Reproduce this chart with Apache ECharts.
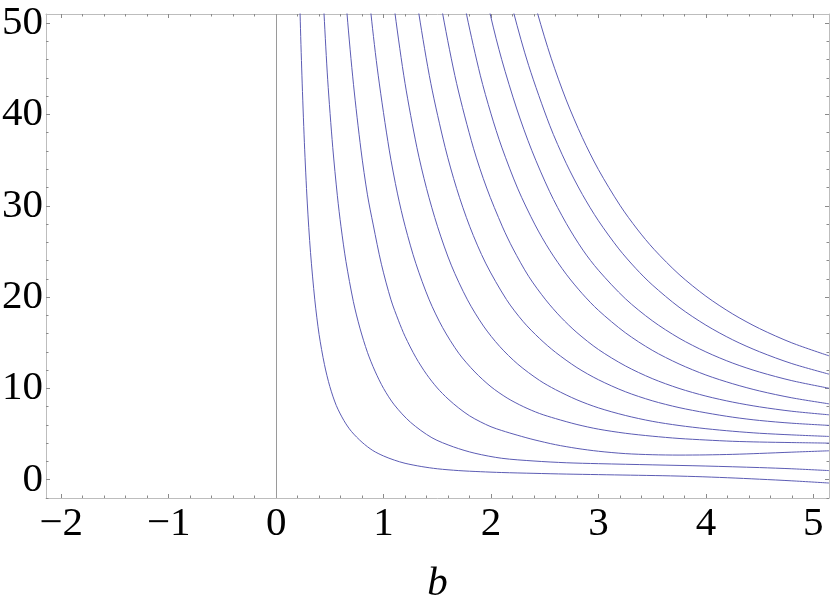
<!DOCTYPE html>
<html lang="en">
<head>
    <meta charset="UTF-8">
    <title>b</title>
    <style>
        html, body { margin: 0; padding: 0; background: #fff; }
        #chart { width: 830px; height: 604px; }
    </style>
</head>
<body>
<div id="chart"></div>
<script src="https://cdn.jsdelivr.net/npm/echarts@6/dist/echarts.min.js"></script>
<script type="text/javascript">
    // axis ranges and ticks
    var xRange = [-2.142, 5.146];
    var yRange = [-2.0, 51.0];
    var xMajor = [-2, -1, 0, 1, 2, 3, 4, 5];
    var yMajor = [0, 10, 20, 30, 40, 50];

    // curves as [b, value]
    var curve1 = [[0.21, 57.8], [0.223, 51], [0.24, 44.3], [0.263, 36.9], [0.29, 30.3], [0.32, 24.9],
        [0.36, 19.7], [0.40, 15.9], [0.45, 12.6], [0.50, 10.2], [0.56, 8.13], [0.63, 6.5], [0.70, 5.3],
        [0.80, 4.1], [0.90, 3.2], [1.0, 2.6], [1.1, 2.15], [1.2, 1.8], [1.35, 1.45], [1.5, 1.2],
        [1.7, 1.0], [1.9, 0.88], [2.1, 0.79], [2.4, 0.7], [2.7, 0.62], [3.0, 0.56], [3.3, 0.5],
        [3.6, 0.44], [3.9, 0.35], [4.2, 0.22], [4.5, 0.06], [4.8, -0.12], [5.146, -0.36]];
    var curve2 = [[0.42, 57.3], [0.446, 51], [0.48, 43.8], [0.527, 36.4], [0.57, 31.1], [0.604, 27.7],
        [0.65, 23.9], [0.719, 19.5], [0.78, 16.6], [0.85, 13.95], [0.92, 11.9], [1.0, 10.0], [1.1, 8.2],
        [1.25, 6.3], [1.45, 4.6], [1.65, 3.6], [1.85, 2.9], [2.1, 2.35], [2.4, 2.05], [2.7, 1.86],
        [3.0, 1.76], [3.5, 1.63], [4.0, 1.5], [4.5, 1.33], [4.8, 1.2], [5.146, 1.0]];
    var curve3 = [[0.63, 56.2], [0.66, 51], [0.72, 43.3], [0.79, 36.1], [0.85, 31.2], [0.904, 27.9],
        [0.98, 23.6], [1.069, 19.7], [1.14, 17.4], [1.2, 15.7], [1.3, 13.4], [1.4, 11.55], [1.5, 10.05],
        [1.6, 8.85], [1.7, 7.85], [1.8, 7.0], [1.9, 6.35], [2.0, 5.8], [2.1, 5.39], [2.25, 4.86],
        [2.4, 4.38], [2.6, 3.84], [2.8, 3.43], [3.0, 3.12], [3.25, 2.86], [3.5, 2.74], [3.75, 2.7],
        [4.0, 2.72], [4.25, 2.78], [4.5, 2.88], [4.8, 3.02], [5.146, 3.17]];
    var curve4 = [[0.84, 56.7], [0.883, 51], [0.95, 44.3], [1.053, 36.1], [1.13, 31.3], [1.202, 27.7],
        [1.3, 23.7], [1.425, 19.7], [1.55, 16.65], [1.7, 13.85], [1.85, 11.8], [2.0, 10.18], [2.15, 8.95],
        [2.3, 8.01], [2.45, 7.26], [2.6, 6.7], [2.8, 6.05], [3.0, 5.54], [3.25, 5.09], [3.5, 4.77],
        [3.75, 4.52], [4.0, 4.35], [4.25, 4.21], [4.5, 4.13], [4.8, 4.07], [5.146, 4.01]];
    var curve5 = [[1.05, 56.7], [1.106, 51.1], [1.2, 43.4], [1.31, 36.4], [1.4, 31.9], [1.503, 27.7],
        [1.63, 23.5], [1.781, 19.7], [1.93, 16.83], [2.08, 14.61], [2.25, 12.65], [2.45, 10.89],
        [2.6, 9.87], [2.8, 8.75], [3.0, 7.87], [3.25, 7.04], [3.5, 6.4], [3.75, 5.94], [4.0, 5.59],
        [4.25, 5.31], [4.5, 5.09], [4.8, 4.91], [5.146, 4.74]];
    var curve6 = [[1.26, 56.7], [1.329, 51], [1.44, 43.4], [1.573, 36.4], [1.68, 31.9], [1.803, 27.7],
        [1.95, 23.72], [2.144, 19.73], [2.3, 17.31], [2.45, 15.49], [2.6, 13.96], [2.8, 12.28], [3.0, 10.95],
        [3.25, 9.64], [3.5, 8.65], [3.75, 7.9], [4.0, 7.33], [4.25, 6.85], [4.5, 6.49], [4.8, 6.19],
        [5.146, 5.95]];
    var curve7 = [[1.47, 56.7], [1.552, 50.9], [1.68, 43.4], [1.837, 36.3], [1.96, 31.94], [2.107, 27.69],
        [2.206, 25.27], [2.35, 22.28], [2.509, 19.7], [2.65, 17.8], [2.8, 16.11], [3.0, 14.26], [3.25, 12.47],
        [3.5, 11.08], [3.75, 10.0], [4.0, 9.16], [4.25, 8.5], [4.5, 7.98], [4.8, 7.5], [5.146, 7.11]];
    var curve8 = [[1.69, 56.0], [1.775, 50.8], [1.9, 44.3], [2.0, 40.07], [2.1, 36.42], [2.25, 31.85],
        [2.41, 27.91], [2.546, 25.13], [2.7, 22.51], [2.85, 20.37], [3.0, 18.55], [3.25, 16.1], [3.5, 14.18],
        [3.75, 12.68], [4.0, 11.47], [4.25, 10.51], [4.5, 9.72], [4.8, 8.97], [5.146, 8.31]];
    var curve9 = [[1.9, 56.1], [1.998, 50.7], [2.1, 46.0], [2.24, 40.6], [2.379, 36.08], [2.546, 31.54],
        [2.7, 28.08], [2.856, 25.14], [3.0, 22.94], [3.25, 19.83], [3.5, 17.42], [3.75, 15.51], [4.0, 14.0],
        [4.25, 12.77], [4.5, 11.79], [4.8, 10.85], [5.146, 10.02]];
    var curve10 = [[2.11, 56.2], [2.212, 51.1], [2.35, 45.38], [2.546, 38.82], [2.7, 34.65], [2.85, 31.25],
        [3.0, 28.36], [3.19, 25.28], [3.35, 23.11], [3.5, 21.35], [3.75, 18.9], [4.0, 16.93], [4.25, 15.32],
        [4.5, 14.01], [4.8, 12.72], [5.146, 11.56]];
    var curve11 = [[2.33, 55.7], [2.435, 51.0], [2.56, 46.16], [2.70, 41.59], [2.85, 37.47], [3.0, 33.96],
        [3.2, 30.06], [3.36, 27.45], [3.52, 25.2], [3.75, 22.49], [4.0, 20.1], [4.25, 18.15], [4.5, 16.55],
        [4.8, 14.99], [5.146, 13.57]];

    var curves = [curve1, curve2, curve3, curve4, curve5, curve6, curve7, curve8, curve9, curve10, curve11];

    function minorTicks(lo, hi, step, majors) {
        var out = [];
        for (var v = lo; v <= hi + 1e-9; v += step) {
            var r = Math.round(v * 1000) / 1000;
            if (majors.indexOf(r) < 0) out.push(r);
        }
        return out;
    }
    var xMinor = minorTicks(-2, 5, 0.2, xMajor);
    var yMinor = minorTicks(-2, 50, 2, yMajor);

    var frameColor = '#bdbdbd';
    var tickColor = '#8a8a8a';
    var labelFont = {
        fontFamily: 'Liberation Serif',
        fontSize: 41,
        color: '#000'
    };

    function fmt(v) {
        return v < 0 ? '\u2212' + Math.abs(v) : String(v);
    }

    function xAxisOf(position, ticks, len, withLabel, withLine) {
        return {
            type: 'value', position: position, min: xRange[0], max: xRange[1],
            axisLine: {show: withLine, onZero: false, lineStyle: {color: frameColor, width: 1}},
            axisTick: {show: true, inside: true, length: len, customValues: ticks,
                lineStyle: {color: tickColor, width: 1}},
            axisLabel: withLabel ? Object.assign({show: true, margin: 6, customValues: ticks, formatter: fmt}, labelFont)
                : {show: false},
            splitLine: {show: false}
        };
    }
    function yAxisOf(position, ticks, len, withLabel, withLine) {
        return {
            type: 'value', position: position, min: yRange[0], max: yRange[1],
            axisLine: {show: withLine, onZero: false, lineStyle: {color: frameColor, width: 1}},
            axisTick: {show: true, inside: true, length: len, customValues: ticks,
                lineStyle: {color: tickColor, width: 1}},
            axisLabel: withLabel ? Object.assign({show: true, margin: 3, customValues: ticks, formatter: fmt}, labelFont)
                : {show: false},
            splitLine: {show: false}
        };
    }

    var bottomAxis = xAxisOf('bottom', xMajor, 4, true, true);
    bottomAxis.name = 'b';
    bottomAxis.nameLocation = 'middle';
    bottomAxis.nameGap = 66;
    bottomAxis.nameTextStyle = {fontFamily: 'Liberation Serif', fontStyle: 'italic', fontSize: 41, color: '#000'};

    var myChart = echarts.init(document.getElementById('chart'));
    var option = {
        animation: false,
        backgroundColor: '#fff',
        grid: {left: 46, right: 1, top: 14, bottom: 106, containLabel: false, outerBoundsMode: 'none'},
        xAxis: [
            bottomAxis,
            xAxisOf('bottom', xMinor, 2.5, false, false),
            xAxisOf('top', xMajor, 4, false, true),
            xAxisOf('top', xMinor, 2.5, false, false)
        ],
        yAxis: [
            yAxisOf('left', yMajor, 4, true, true),
            yAxisOf('left', yMinor, 2.5, false, false),
            yAxisOf('right', yMajor, 4, false, true),
            yAxisOf('right', yMinor, 2.5, false, false)
        ],
        series: curves.map(function (c, i) {
            var s = {
                type: 'line',
                data: c,
                showSymbol: false,
                smooth: 0.3,
                clip: true,
                lineStyle: {color: '#5c5cb4', width: 1},
                z: 3
            };
            if (i === 0) {
                s.markLine = {
                    silent: true,
                    symbol: 'none',
                    label: {show: false},
                    lineStyle: {color: '#9a9a9a', width: 1, type: 'solid'},
                    data: [{xAxis: 0}]
                };
            }
            return s;
        })
    };
    myChart.setOption(option);
</script>
</body>
</html>
